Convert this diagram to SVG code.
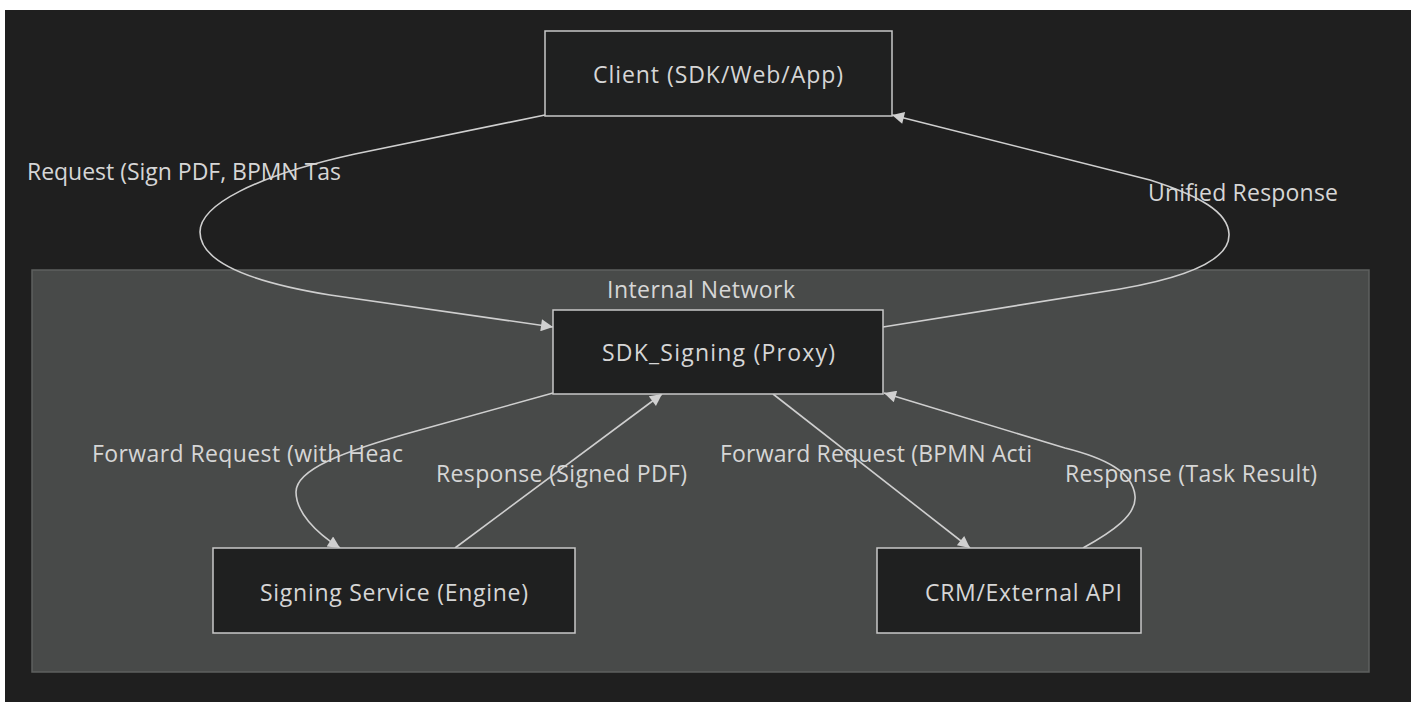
<svg xmlns="http://www.w3.org/2000/svg" width="1411" height="702" viewBox="0 0 1411 702">
  <style>
    .node rect { fill: #1f2020; stroke: #c8c8c8; stroke-width: 1.5; }
    .cluster rect { fill: #484a49; stroke: #5e605f; stroke-width: 1.5; }
    text { font-family: "Open Sans", "Noto Sans", "DejaVu Sans", sans-serif; font-size: 23px; fill: #d6d6d6; }
    .edge { fill: none; stroke: #cfcfcf; stroke-width: 1.6; }
  </style>
  <defs>
    <marker id="arrow" viewBox="0 0 10 10" refX="10" refY="5" markerUnits="userSpaceOnUse" markerWidth="14" markerHeight="12" orient="auto">
      <path d="M0,0 L10,5 L0,10 z" fill="#d0d0d0"/>
    </marker>
  </defs>

  <!-- canvas -->
  <rect x="0" y="0" width="1411" height="702" fill="#ffffff"/>
  <rect x="5" y="10" width="1406" height="692" fill="#1f1f1f"/>

  <!-- subgraph -->
  <g id="internal-network" class="cluster">
    <rect x="32" y="270" width="1337" height="402"/>
    <text x="607" y="298" textLength="188">Internal Network</text>
  </g>

  <!-- connectors -->
  <g id="connectors">
    <path class="edge" marker-end="url(#arrow)" d="M545,115 L355,154 C255,176 200,205 200,232 C200,262 250,282 330,295 L553,327"/>
    <path class="edge" marker-end="url(#arrow)" d="M883,327 L1120,289 C1195,276 1230,258 1229,234 C1228,212 1200,196 1150,180 L892,115"/>
    <path class="edge" marker-end="url(#arrow)" d="M553,393 L420,430 C340,452 296,470 296,492 C296,512 315,532 340,548"/>
    <path class="edge" marker-end="url(#arrow)" d="M455,548 L662,394"/>
    <path class="edge" marker-end="url(#arrow)" d="M773,394 L970,548"/>
    <path class="edge" marker-end="url(#arrow)" d="M1083,548 C1112,532 1137,515 1135,496 C1133,472 1105,458 1065,448 L884,393"/>
  </g>

  <!-- edge labels -->
  <g id="edge-labels">
    <text x="27" y="180" textLength="314">Request (Sign PDF, BPMN Tas</text>
    <text x="1148" y="201" textLength="190">Unified Response</text>
    <text x="92" y="462" textLength="311">Forward Request (with Heac</text>
    <text x="436" y="482" textLength="251">Response (Signed PDF)</text>
    <text x="720" y="462" textLength="312">Forward Request (BPMN Acti</text>
    <text x="1065" y="482" textLength="252">Response (Task Result)</text>
  </g>

  <!-- nodes -->
  <g id="client" class="node">
    <rect x="545" y="31" width="347" height="85"/>
    <text x="593" y="83" textLength="250">Client (SDK/Web/App)</text>
  </g>
  <g id="sdk-signing" class="node">
    <rect x="553" y="310" width="330" height="84"/>
    <text x="602" y="361" textLength="233">SDK_Signing (Proxy)</text>
  </g>
  <g id="signing-service" class="node">
    <rect x="213" y="548" width="362" height="85"/>
    <text x="260" y="601" textLength="268">Signing Service (Engine)</text>
  </g>
  <g id="crm-api" class="node">
    <rect x="877" y="548" width="264" height="85"/>
    <text x="925" y="601" textLength="197">CRM/External API</text>
  </g>
</svg>
